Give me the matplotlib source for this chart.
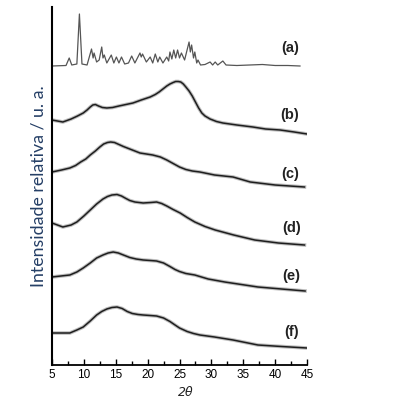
import numpy as np
import matplotlib.pyplot as plt
from matplotlib.ticker import MultipleLocator

# curva (a) - amostra cristalina
a_x = [5.0, 7.2, 7.7, 8.1, 8.9, 9.3, 9.7, 10.5, 11.2, 11.45, 11.6, 12.0, 12.4, 12.8, 13.0, 13.2, 13.6,
       14.3, 14.7, 15.1, 15.5, 15.9, 16.4, 17.0, 17.5, 18.0, 18.8, 19.0, 19.2, 19.8, 20.4, 20.8, 21.2,
       21.6, 21.9, 22.4, 23.0, 23.3, 23.5, 23.8, 24.1, 24.4, 24.7, 25.0, 25.3, 25.8, 26.5, 26.7, 26.9,
       27.2, 27.4, 27.7, 27.9, 28.3, 29.0, 29.8, 30.2, 30.6, 31.0, 31.8, 32.3, 34.0, 36.0, 38.0, 40.0,
       42.0, 43.9]
a_y = [299, 299.5, 307, 300, 301, 351, 301, 300, 316, 307, 312, 303, 305, 318, 307, 310, 302,
       310, 302, 308, 302, 308, 301, 302, 309, 302, 312, 308, 311, 303, 308, 302, 311,
       303, 308, 302, 308, 304, 313, 306, 315, 307, 315, 307, 312, 305, 323, 313, 320,
       307, 313, 302, 305, 300, 300.5, 303, 300, 303, 300, 304, 300, 299.5, 300, 300.5, 299.5,
       299.5, 299]

b_x = [5.0, 6.7, 8.0, 9.0, 9.9, 10.5, 11.0, 11.4, 11.8, 12.3, 12.9, 13.6, 14.5, 15.5, 16.6, 17.7,
       19.0, 20.4, 21.2, 21.8, 22.4, 23.0, 23.5, 24.0, 24.4, 24.8, 25.2, 25.6, 26.0, 26.5, 27.0,
       27.5, 28.0, 28.5, 29.0, 29.8, 30.8, 31.8, 34.0, 36.5, 38.5, 40.8, 43.0, 45.0]
b_y = [245, 243, 246, 249, 252, 255, 258, 260, 260.5, 259, 257.5, 257, 257.5, 259, 260.5, 262,
       265, 268, 270.5, 273, 276, 279, 281, 282.5, 283.5, 283.5, 283, 281, 278, 274, 269,
       263, 257, 252, 249, 246, 243.5, 242, 240, 238, 236, 235, 233, 231]

c_x = [5.0, 6.5, 7.8, 8.7, 9.5, 10.3, 11.0, 11.8, 12.5, 13.1, 13.7, 14.2, 14.8, 15.5, 16.2, 17.0,
       18.0, 18.8, 19.8, 20.8, 22.0, 23.0, 24.0, 25.0, 26.0, 27.0, 28.2, 30.5, 33.4, 36.1, 40.0, 44.6]
c_y = [193, 195, 197, 199.5, 203, 206, 210, 214, 218, 221, 222.5, 223, 222.5, 220.5, 218.5, 216.5,
       214, 212, 211, 210, 208, 205, 201.5, 198, 195.5, 194, 193, 190, 188, 183, 180, 178]

d_x = [5.0, 6.7, 8.0, 8.9, 10.0, 11.0, 12.0, 13.0, 13.7, 14.4, 15.2, 15.9, 16.6, 17.2, 18.0, 19.3,
       20.5, 21.4, 22.2, 23.0, 24.0, 25.1, 26.2, 27.4, 29.0, 30.6, 33.5, 36.8, 40.5, 44.6]
d_y = [142, 138, 140, 143, 149, 155, 161, 166, 168.5, 170, 170.5, 169, 166.5, 164.5, 163, 162,
       162.5, 163, 161.5, 159, 155.5, 152, 147.5, 143, 138.5, 135, 130, 125, 122, 120]

e_x = [5.0, 7.8, 8.9, 9.9, 11.0, 12.0, 13.0, 13.8, 14.6, 15.4, 16.2, 17.2, 18.2, 19.3, 20.4, 21.4,
       22.5, 23.5, 24.3, 25.0, 26.0, 27.4, 29.5, 32.1, 37.3, 41.0, 44.7]
e_y = [88, 90, 93, 97, 102, 107, 110, 112, 113, 112, 110, 107.5, 106, 105, 104.5, 104,
       102, 98.5, 95.5, 93.5, 91.5, 90, 86, 83, 78, 76, 74]

f_x = [5.0, 7.8, 8.9, 9.9, 11.0, 12.0, 12.8, 13.6, 14.4, 15.2, 16.0, 16.8, 17.6, 18.5, 19.3, 20.4,
       21.4, 22.5, 23.5, 24.3, 25.0, 26.2, 27.2, 28.2, 30.5, 33.4, 37.3, 41.0, 45.0]
f_y = [32, 32, 35, 38, 44, 50, 53.5, 56, 57.5, 58, 56.5, 53.5, 51.5, 50.5, 50, 49.5,
       49, 47, 43.5, 40, 37, 33.5, 31.5, 30, 28, 25, 20, 18.5, 17]

rotulos = ['(a)', '(b)', '(c)', '(d)', '(e)', '(f)']
rot_x = [42.3, 42.3, 42.4, 42.6, 42.6, 42.6]
rot_y = [317, 250, 191, 137, 89, 33]

fig = plt.figure(figsize=(3.98, 3.98), dpi=100)
ax = fig.add_axes([52/398, 33/398, 255/398, 358/398])

ax.plot(a_x, a_y, color='#555555', lw=0.9)
for xs, ys in [(b_x, b_y), (c_x, c_y), (d_x, d_y), (e_x, e_y), (f_x, f_y)]:
    ax.plot(xs, ys, color='#8a8a8a', lw=2.6, alpha=0.55, solid_joinstyle='round')
    ax.plot(xs, ys, color='#1e1e1e', lw=1.1, solid_joinstyle='round')

for t, x, y in zip(rotulos, rot_x, rot_y):
    ax.text(x, y, t, ha='center', va='center', fontsize=10.5, fontweight='bold',
            family='Liberation Sans', color='#222222')

ax.set_xlim(5, 45)
ax.set_ylim(0, 358)
ax.spines['top'].set_visible(False)
ax.spines['right'].set_visible(False)
ax.spines['left'].set_linewidth(1.5)
ax.spines['bottom'].set_linewidth(1.3)
ax.set_yticks([])
ax.xaxis.set_major_locator(MultipleLocator(5))
ax.xaxis.set_minor_locator(MultipleLocator(2.5))
ax.tick_params(axis='x', which='major', direction='in', length=4, width=1, pad=3, labelsize=8.5)
ax.tick_params(axis='x', which='minor', direction='in', length=3, width=1)
for lb in ax.get_xticklabels():
    lb.set_family('Liberation Sans')

fig.text(186/398, 1 - 393/398, '2θ', ha='center', va='center', fontsize=9, style='italic',
         family='DejaVu Sans', color='#222222')
fig.text(39/398, 1 - 186/398, 'Intensidade relativa / u. a.', rotation=90, ha='center', va='center',
         fontsize=12.8, family='Lato', color='#253f66')

fig.savefig('out.png', dpi=100)
